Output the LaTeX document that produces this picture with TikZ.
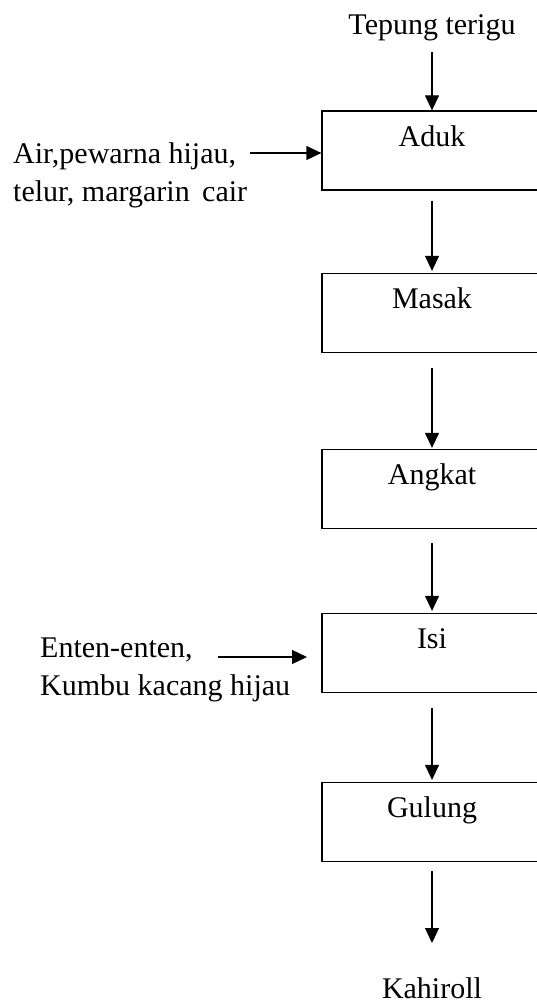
\documentclass[tikz,border=0pt]{standalone}
\usepackage{fontspec}
\setmainfont{Liberation Serif}
\usetikzlibrary{arrows.meta}
\begin{document}
\begin{tikzpicture}[x=1pt,y=-1pt,
  every node/.style={font=\fontsize{30}{38}\selectfont, text=black},
  box/.style={draw, line width=1.3pt, minimum width=220pt, minimum height=79pt, inner sep=0pt},
  boxtext/.style={label={[anchor=base,yshift=-36pt]north:#1}},
  arr/.style={line width=1.3pt, -{Triangle[length=15pt,width=14pt]}}]
\useasboundingbox (0,0) rectangle (536,1006);
\node[box,boxtext=Aduk] (aduk) at (432,150.5) {};
\node[box,boxtext=Masak] (masak) at (432,313) {};
\node[box,boxtext=Angkat] (angkat) at (432,489) {};
\node[box,boxtext=Isi] (isi) at (432,653) {};
\node[box,boxtext=Gulung] (gulung) at (432,822) {};
\node[anchor=base, inner sep=0pt] (tep) at (432,35) {Tepung terigu};
\node[anchor=base, inner sep=0pt] (kah) at (432,998) {Kahiroll};
\node[anchor=base west, inner sep=0pt, align=left] (in1) at (13,201) {Air,pewarna hijau,\\telur, margarin\, cair};
\node[anchor=base west, inner sep=0pt, align=left] (in2) at (40,695) {Enten-enten,\\Kumbu kacang hijau};
\coordinate (a1) at (250,153);
\coordinate (i1) at (218,657);
\coordinate (i2) at (307,657);
\draw[arr, shorten <=10pt] (tep) -- (aduk);
\draw[arr, shorten <=10pt, shorten >=2pt] (aduk) -- (masak);
\draw[arr, shorten <=15pt, shorten >=1pt] (masak) -- (angkat);
\draw[arr, shorten <=14pt, shorten >=2pt] (angkat) -- (isi);
\draw[arr, shorten <=15pt, shorten >=2pt] (isi) -- (gulung);
\draw[arr, shorten <=9pt] (gulung.south) -- (432,943);
\draw[arr] (a1) -- (a1 -| aduk.west);
\draw[arr] (i1) -- (i2);
\end{tikzpicture}
\end{document}
